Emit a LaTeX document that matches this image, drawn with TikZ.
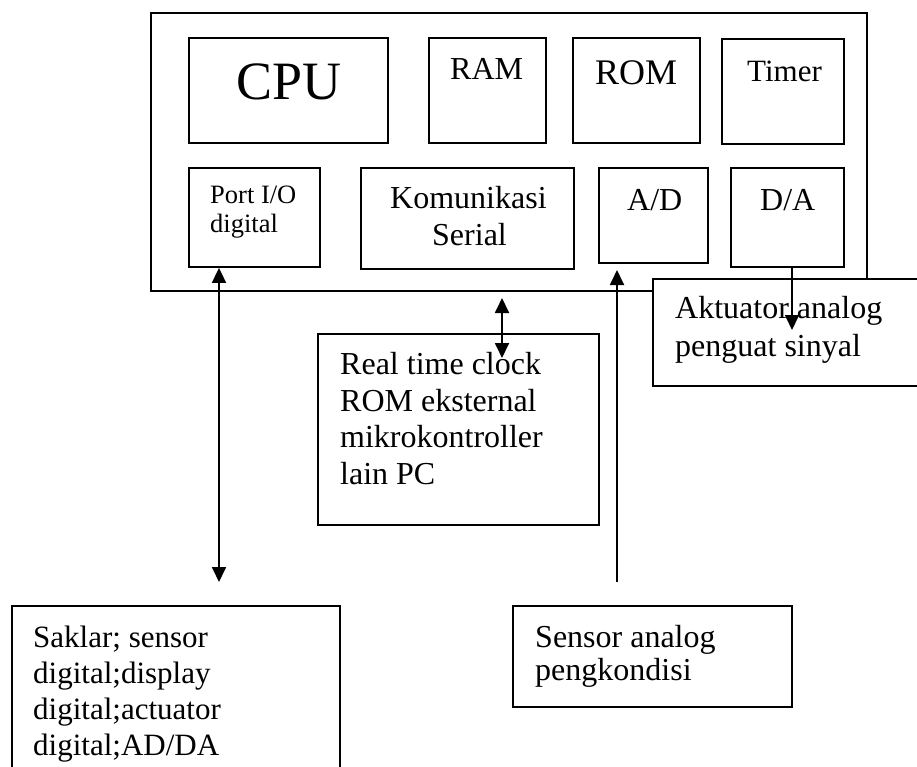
\documentclass[tikz,border=0pt]{standalone}
\usepackage{fontspec}
\setmainfont{Liberation Serif}
\usetikzlibrary{arrows.meta}
\begin{document}
\begin{tikzpicture}[x=1pt,y=-1pt,
  box/.style={draw, line width=1.8pt, fill=white, inner sep=0pt},
  lbl/.style={anchor=base west, inner sep=0pt, font=\fontsize{32}{36}\selectfont},
  conn/.style={line width=1.8pt},
  arr/.style={conn,-{Triangle[width=14pt,length=15pt]}},
  dbl/.style={conn,{Triangle[width=14pt,length=15pt]}-{Triangle[width=14pt,length=15pt]}}]
\useasboundingbox (0,0) rectangle (917,767);
\clip (0,0) rectangle (917,767);
% main box
\node[box, minimum width=716pt, minimum height=278pt] (outer) at (509,152) {};
\node[box, minimum width=199pt, minimum height=105pt] (cpu) at (288.5,90.5) {};
\node[box, minimum width=117pt, minimum height=105pt] (ram) at (487.5,90.5) {};
\node[box, minimum width=127pt, minimum height=105pt] (rom) at (636.5,90.5) {};
\node[box, minimum width=122pt, minimum height=105pt] (timer) at (783,91.5) {};
\node[box, minimum width=131pt, minimum height=99pt] (port) at (254.5,217.5) {};
\node[box, minimum width=213pt, minimum height=101pt] (kom) at (467.5,218.5) {};
\node[box, minimum width=109pt, minimum height=95pt] (ad) at (653.5,215.5) {};
\node[box, minimum width=113pt, minimum height=99pt] (da) at (787.5,217.5) {};
% external boxes
\node[box, minimum width=272pt, minimum height=107pt] (akt) at (789,332.5) {};
\node[box, minimum width=281pt, minimum height=191pt] (rtc) at (458.5,429.5) {};
\node[box, minimum width=328pt, minimum height=174pt] (saklar) at (176,693) {};
\node[box, minimum width=279pt, minimum height=101pt] (sensor) at (652.5,656.5) {};
% texts
\node[lbl, font=\fontsize{54}{60}\selectfont] (tcpu) at (236,100) {CPU};
\node[lbl] (tram) at (450,80) {RAM};
\node[lbl, font=\fontsize{36}{40}\selectfont] (trom) at (595,85) {ROM};
\node[lbl, font=\fontsize{31}{36}\selectfont] (ttimer) at (747,82) {Timer};
\node[lbl, font=\fontsize{26.5}{30}\selectfont] (tport1) at (210,204) {Port I/O};
\node[lbl, font=\fontsize{26.5}{30}\selectfont] (tport2) at (210,233) {digital};
\node[lbl] (tkom1) at (390,209) {Komunikasi};
\node[lbl] (tkom2) at (432,245) {Serial};
\node[lbl] (tad) at (627,211) {A/D};
\node[lbl] (tda) at (760,211) {D/A};
\node[lbl] (takt1) at (675,318) {Aktuator analog};
\node[lbl] (takt2) at (675,356) {penguat sinyal};
\node[lbl] (trtc1) at (340,374) {Real time clock};
\node[lbl] (trtc2) at (340,411) {ROM eksternal};
\node[lbl] (trtc3) at (340,447) {mikrokontroller};
\node[lbl] (trtc4) at (340,484) {lain PC};
\node[lbl, font=\fontsize{31}{36}\selectfont] (tsak1) at (33,647) {Saklar; sensor};
\node[lbl, font=\fontsize{31}{36}\selectfont] (tsak2) at (33,683) {digital;display};
\node[lbl, font=\fontsize{31}{36}\selectfont] (tsak3) at (33,719) {digital;actuator};
\node[lbl, font=\fontsize{31}{36}\selectfont] (tsak4) at (33,755) {digital;AD/DA};
\node[lbl] (tsen1) at (535,647) {Sensor analog};
\node[lbl] (tsen2) at (535,680) {pengkondisi};
% connectors
\coordinate (p1) at (219,582);
\draw[dbl] (port.south -| p1) -- (p1);
\coordinate (k1) at (502,298);
\coordinate (k2) at (502,358);
\draw[dbl] (k1) -- (k2);
\coordinate (a1) at (617,582);
\coordinate (a2) at (617,270);
\draw[arr] (a1) -- (a2);
\coordinate (d2) at (792,330);
\draw[arr] (da.south -| d2) -- (d2);
\end{tikzpicture}
\end{document}
